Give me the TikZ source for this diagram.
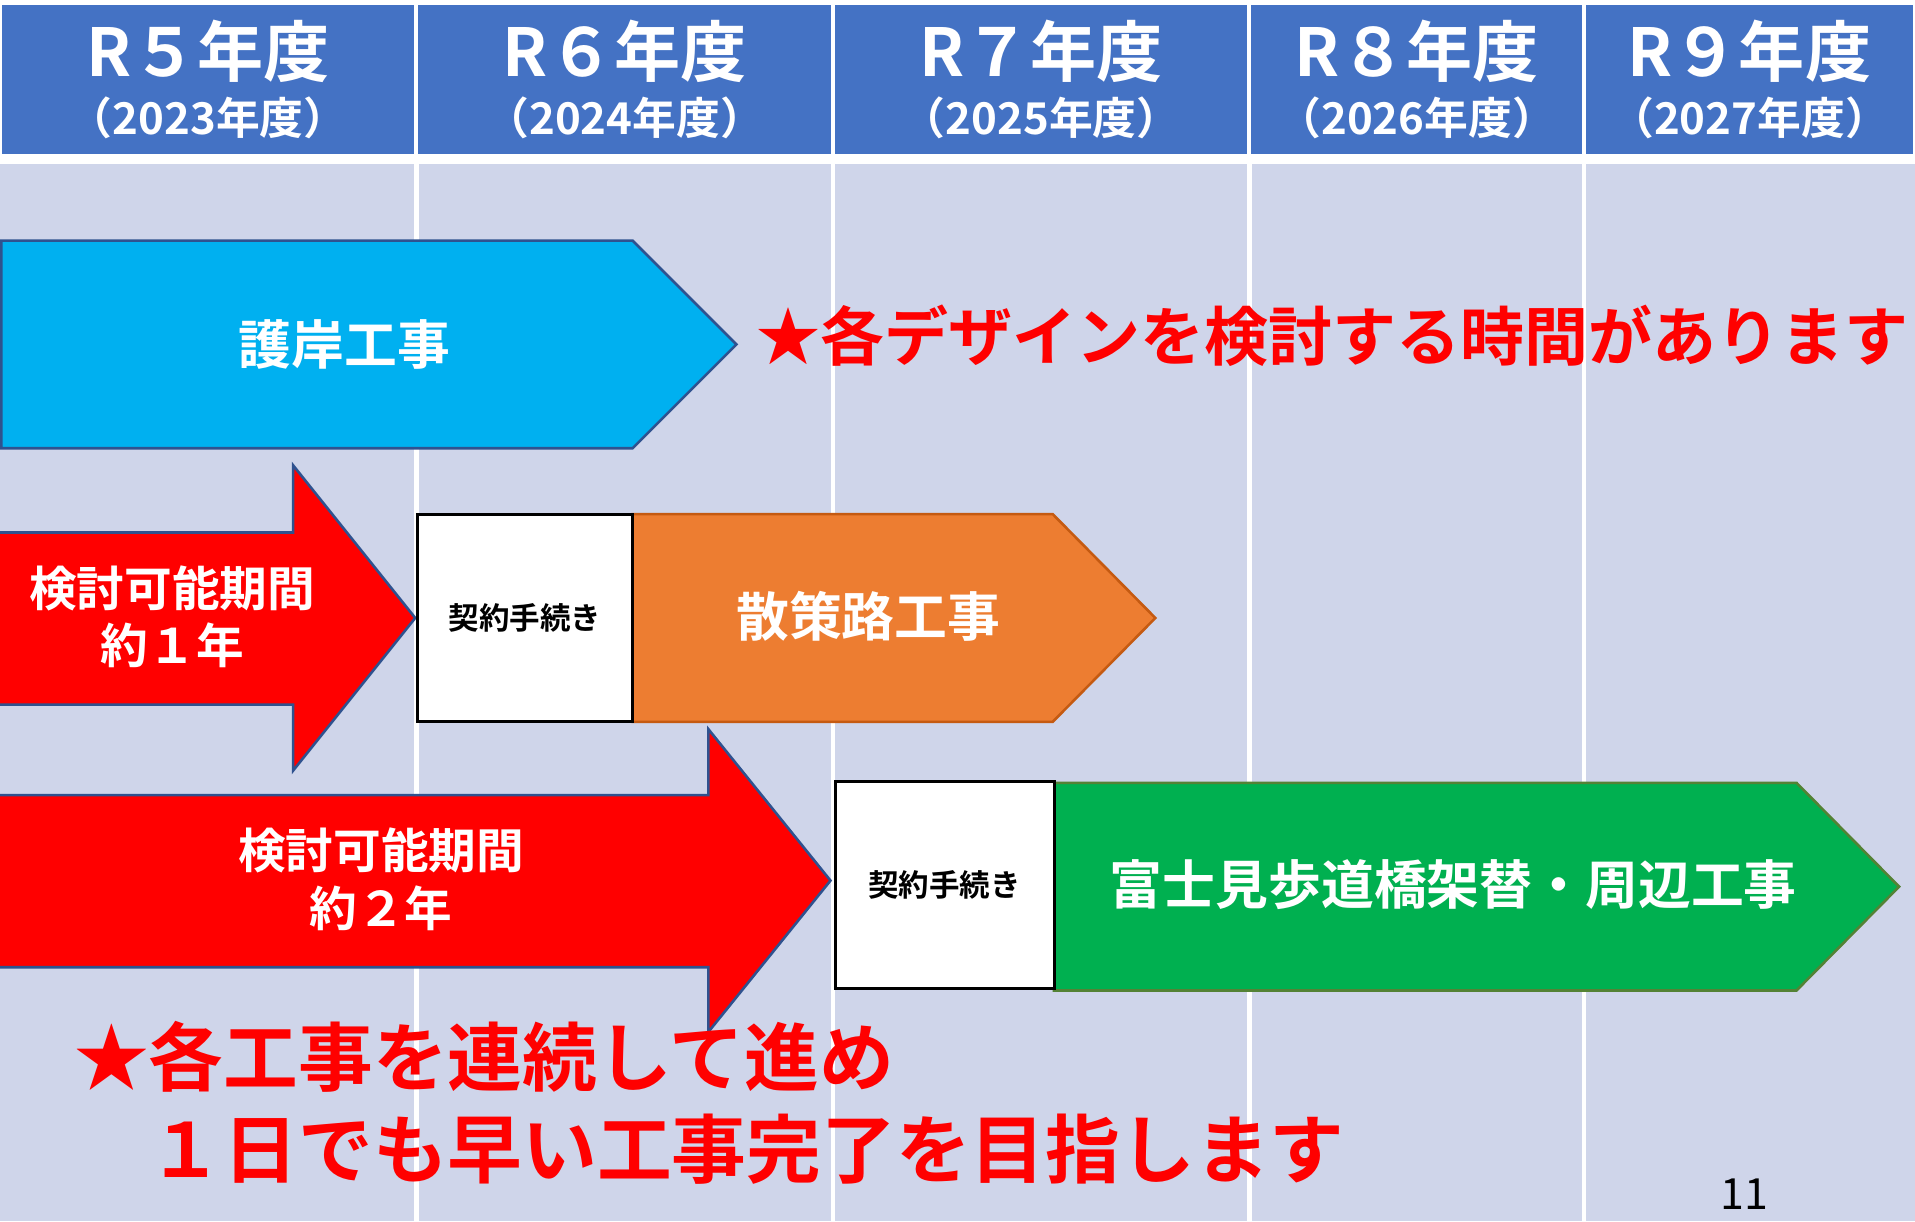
\documentclass[tikz,border=0pt]{standalone}
\usepackage{fontspec}
\setmainfont{Noto Sans CJK JP}[BoldFont=* Bold]
\usepackage{tikz}
\definecolor{hdrblue}{HTML}{4472C4}
\definecolor{lanegray}{HTML}{CFD5EA}
\definecolor{edgeblue}{HTML}{2F528F}
\definecolor{gancyan}{HTML}{00B0F0}
\definecolor{ganorange}{HTML}{ED7D31}
\definecolor{edgeorange}{HTML}{C55A11}
\definecolor{gangreen}{HTML}{00B050}
\definecolor{edgegreen}{HTML}{548235}
\definecolor{notered}{HTML}{FF0000}
\newcommand{\yearsub}{\fontsize{10.2}{13.4}\selectfont}

\begin{document}
\begin{tikzpicture}[x=0.01cm, y=-0.01cm,
    yearcell/.style={rectangle, draw=white, line width=1pt, fill=hdrblue, text=white, minimum height=1.26cm, outer sep=0pt, inner sep=0pt, align=center, font=\bfseries\fontsize{15.4}{13.4}\selectfont},
    gridline/.style={white, line width=1pt},
    bar/.style={draw=#1, line width=0.6pt},
    barlabel/.style={text=white, inner sep=0pt, font=\bfseries\fontsize{12.3}{14}\selectfont},
    redlabel/.style={text=white, inner sep=0pt, align=center, font=\bfseries\fontsize{11.1}{13.4}\selectfont},
    keiyaku/.style={rectangle, draw=black, line width=0.7pt, fill=white, inner sep=0pt, font=\bfseries\fontsize{7.1}{9}\selectfont},
    note/.style={text=notered, inner sep=0pt, font=\bfseries\fontsize{#1}{21.3}\selectfont}
]

\useasboundingbox (0,0) rectangle (1568,1000);
\fill[white] (0,0) rectangle (1568,1000);

% Year header
\node[yearcell, minimum width=3.41cm] (r5) at (170.5,65) {R５年度\\{\yearsub（2023年度）}};
\node[yearcell, minimum width=3.41cm] (r6) at (511.5,65) {R６年度\\{\yearsub（2024年度）}};
\node[yearcell, minimum width=3.41cm] (r7) at (852.5,65) {R７年度\\{\yearsub（2025年度）}};
\node[yearcell, minimum width=2.74cm] (r8) at (1160,65) {R８年度\\{\yearsub（2026年度）}};
\node[yearcell, minimum width=2.71cm] (r9) at (1432.5,65) {R９年度\\{\yearsub（2027年度）}};

% Lanes
\fill[lanegray] (0,134) rectangle (1568,1000);
\draw[gridline] (341,134) -- (341,1000) (682,134) -- (682,1000)
    (1023,134) -- (1023,1000) (1297,134) -- (1297,1000);

% Revetment works
\draw[bar=edgeblue, fill=gancyan] (1,197) -- (518,197) -- (603,282) -- (518,367) -- (1,367) -- cycle;
\node[barlabel] (gogan) at (282,282) {護岸工事};

% Promenade works
\draw[bar=edgeblue, fill=notered] (-5,436) -- (240,436) -- (240,381) -- (340,506)
    -- (240,631) -- (240,577) -- (-5,577) -- cycle;
\node[redlabel] (kentou1) at (141,505) {検討可能期間\\約１年};
\draw[bar=edgeorange, fill=ganorange] (518,421) -- (862,421) -- (946,506) -- (862,591) -- (518,591) -- cycle;
\node[keiyaku, minimum width=1.76cm, minimum height=1.70cm] (keiyaku1) at (430,506) {契約手続き};
\node[barlabel] (sansaku) at (711,505) {散策路工事};

% Bridge works
\draw[bar=edgeblue, fill=notered] (-5,651) -- (580,651) -- (580,597) -- (680,721)
    -- (580,845) -- (580,792) -- (-5,792) -- cycle;
\node[redlabel] (kentou2) at (312,720) {検討可能期間\\約２年};
\draw[bar=edgegreen, fill=gangreen] (863,641) -- (1471,641) -- (1555,726) -- (1471,811) -- (863,811) -- cycle;
\node[keiyaku, minimum width=1.79cm, minimum height=1.69cm] (keiyaku2) at (773.5,724.5) {契約手続き};
\node[barlabel] (fujimi) at (1190,724) {富士見歩道橋架替・周辺工事};

% Notes
\node[note=14.9, anchor=west] (design) at (619,275) {★各デザインを検討する時間があります};
\node[note=17.4, anchor=west, align=left] (renzoku) at (60,903) {★各工事を連続して進め\\　１日でも早い工事完了を目指します};

\node[font=\fontsize{10}{12}\selectfont] (pageno) at (1428,978) {11};

\end{tikzpicture}
\end{document}
